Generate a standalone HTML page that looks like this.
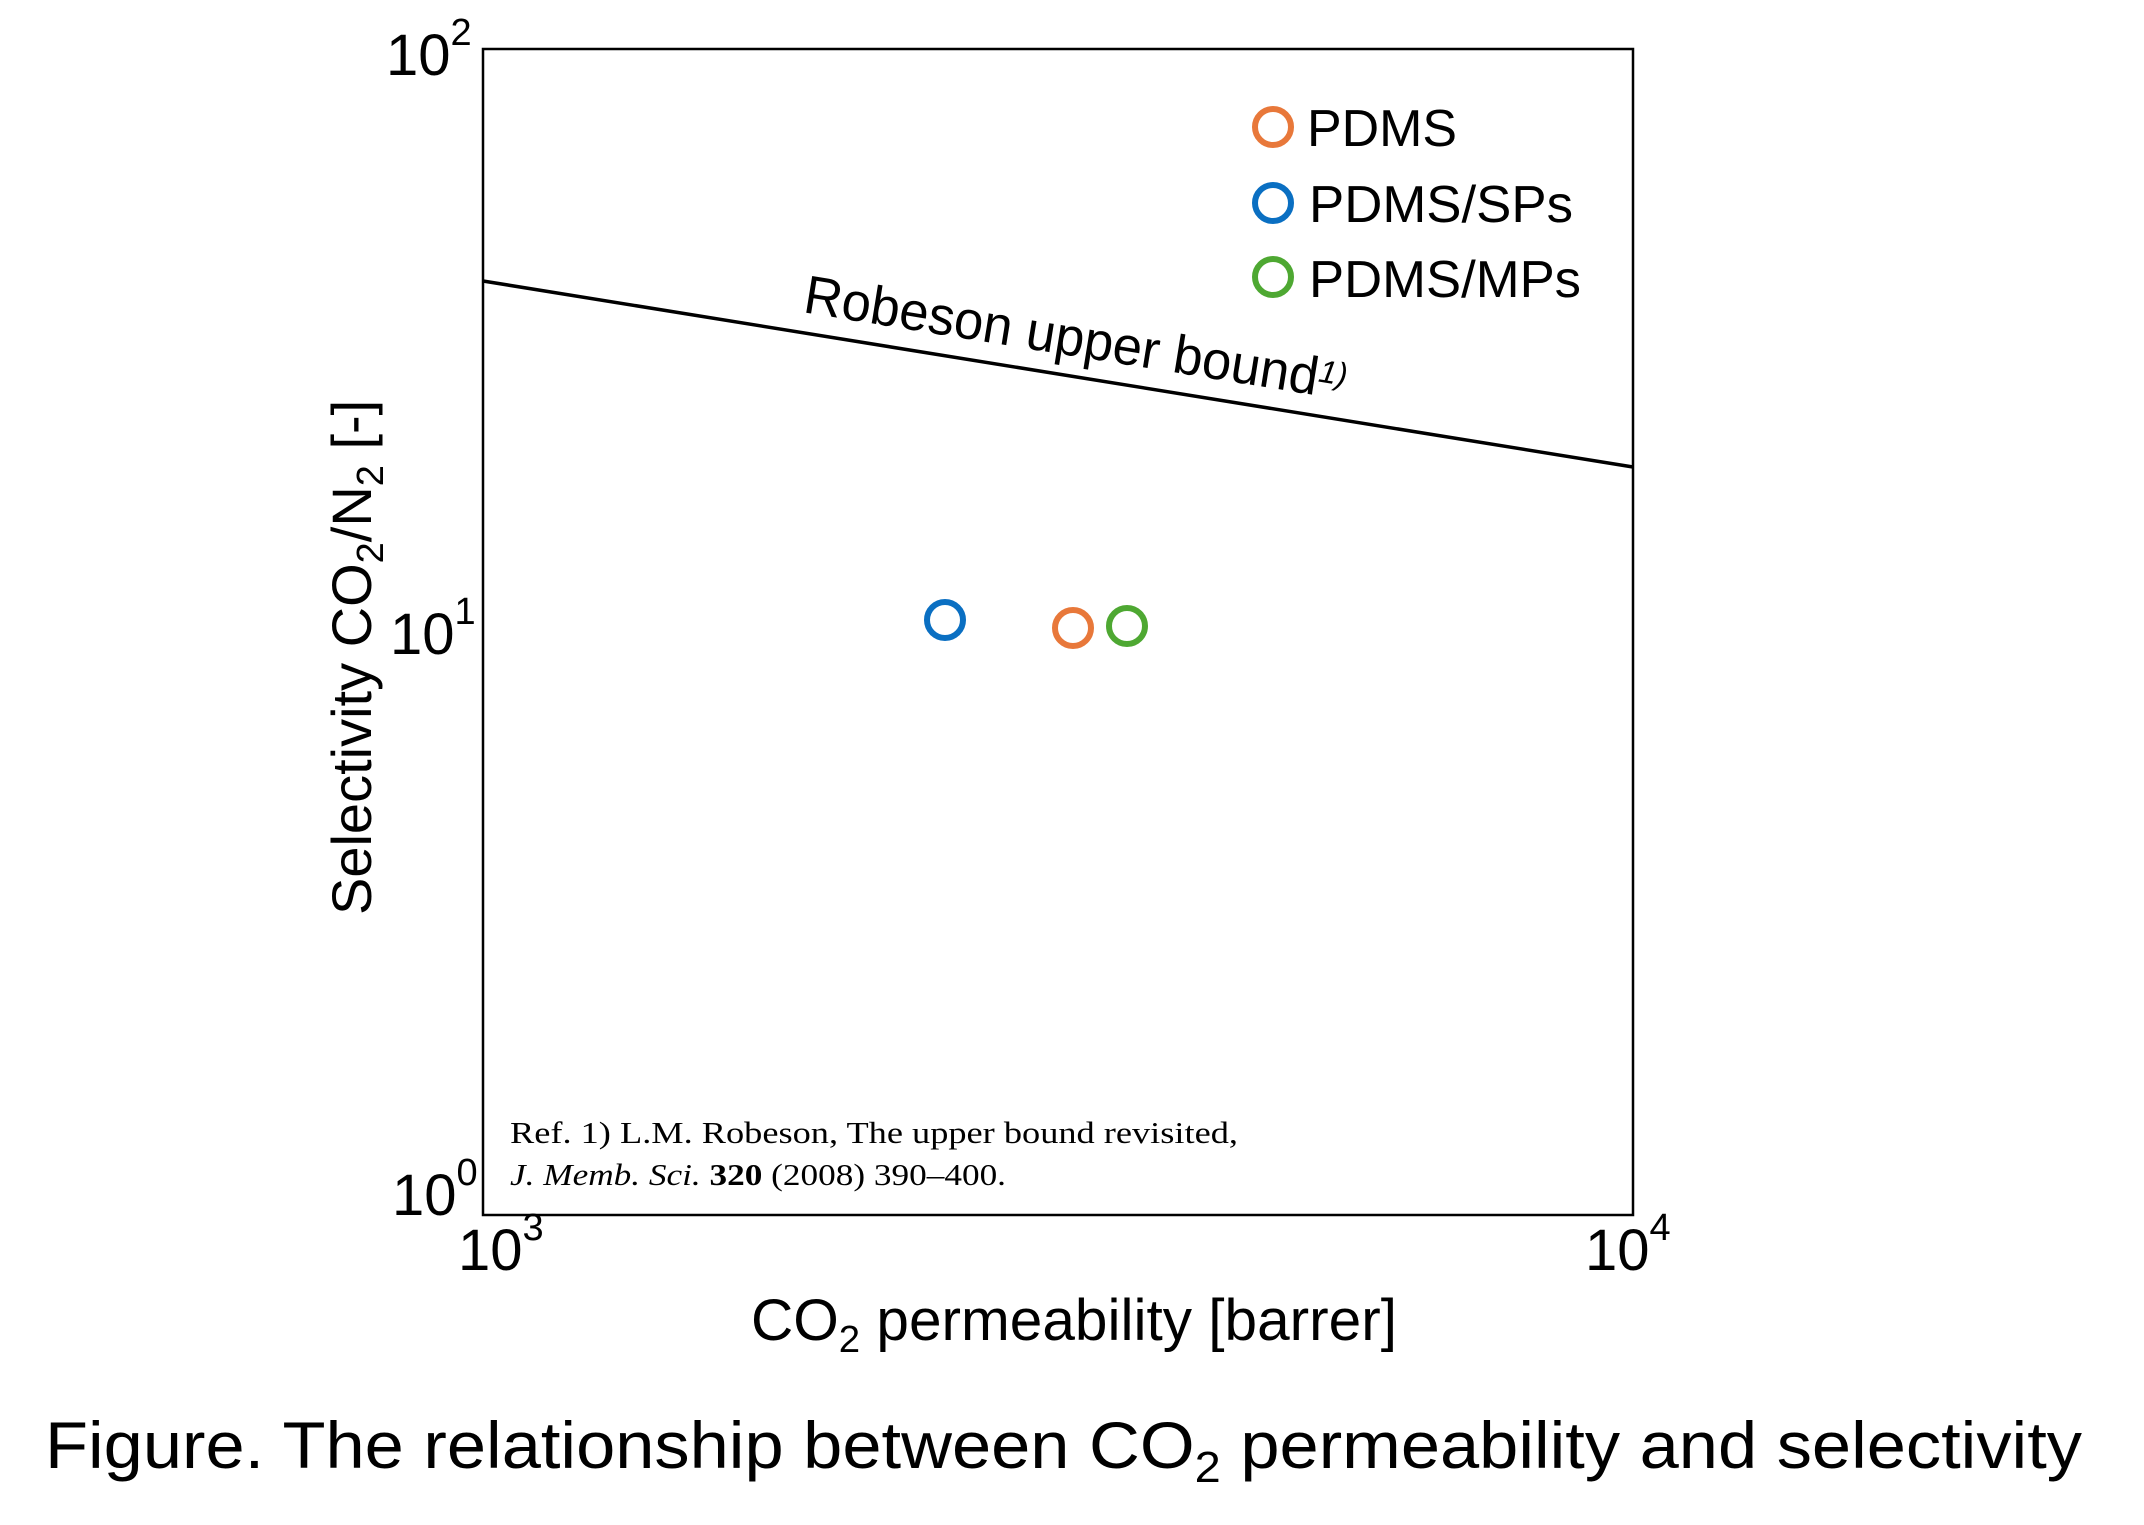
<!DOCTYPE html>
<html><head><meta charset="utf-8"><style>html,body{margin:0;padding:0;background:#fff}svg{display:block}</style></head>
<body>
<svg width="2144" height="1525" viewBox="0 0 2144 1525" xmlns="http://www.w3.org/2000/svg" font-family="Liberation Sans, Arial, sans-serif">
<rect x="0" y="0" width="2144" height="1525" fill="#fff"/>
<rect x="483" y="49" width="1150" height="1166" fill="none" stroke="#000" stroke-width="2.5"/>
<line x1="483" y1="281" x2="1633" y2="467" stroke="#000" stroke-width="3.5"/>
<text transform="translate(802,312) rotate(9.2)" font-size="54"><tspan textLength="520" lengthAdjust="spacingAndGlyphs">Robeson upper bound</tspan><tspan font-size="32" font-style="italic" dy="-14">1)</tspan></text>
<g fill="none" stroke-width="6">
<circle cx="945" cy="620" r="18" stroke="#0a6fc2"/>
<circle cx="1073" cy="628" r="18" stroke="#e8783a"/>
<circle cx="1127" cy="626" r="18" stroke="#4ea832"/>
<circle cx="1273" cy="127" r="18" stroke="#e8783a"/>
<circle cx="1273" cy="203" r="18" stroke="#0a6fc2"/>
<circle cx="1273" cy="277" r="18" stroke="#4ea832"/>
</g>
<g font-size="52">
<text x="1307" y="146" textLength="150" lengthAdjust="spacingAndGlyphs">PDMS</text>
<text x="1309" y="222" textLength="264" lengthAdjust="spacingAndGlyphs">PDMS/SPs</text>
<text x="1309" y="297" textLength="272" lengthAdjust="spacingAndGlyphs">PDMS/MPs</text>
</g>
<g font-size="58">
<text x="386" y="75">10<tspan font-size="38" dy="-30">2</tspan></text>
<text x="390" y="654">10<tspan font-size="38" dy="-30">1</tspan></text>
<text x="392" y="1215">10<tspan font-size="38" dy="-30">0</tspan></text>
<text x="458" y="1270">10<tspan font-size="38" dy="-30">3</tspan></text>
<text x="1585" y="1270">10<tspan font-size="38" dy="-30">4</tspan></text>
</g>
<text x="751" y="1340" font-size="58" textLength="646" lengthAdjust="spacingAndGlyphs">CO<tspan font-size="38" dy="12">2</tspan><tspan dy="-12"> permeability [barrer]</tspan></text>
<text transform="translate(371,915) rotate(-90)" font-size="56">Selectivity CO<tspan font-size="38" dy="12">2</tspan><tspan dy="-12">/N</tspan><tspan font-size="38" dy="12">2</tspan><tspan dy="-12"> [-]</tspan></text>
<g font-family="Liberation Serif, Times New Roman, serif" font-size="31">
<text x="510" y="1143" textLength="728" lengthAdjust="spacingAndGlyphs">Ref. 1) L.M. Robeson, The upper bound revisited,</text>
<text x="510" y="1185" textLength="496" lengthAdjust="spacingAndGlyphs"><tspan font-style="italic">J. Memb. Sci.</tspan> <tspan font-weight="bold">320</tspan> (2008) 390–400.</text>
</g>
<text x="45" y="1468" font-size="66" textLength="2037" lengthAdjust="spacingAndGlyphs">Figure. The relationship between CO<tspan font-size="44" dy="14">2</tspan><tspan dy="-14"> permeability and selectivity</tspan></text>
</svg>
</body></html>
